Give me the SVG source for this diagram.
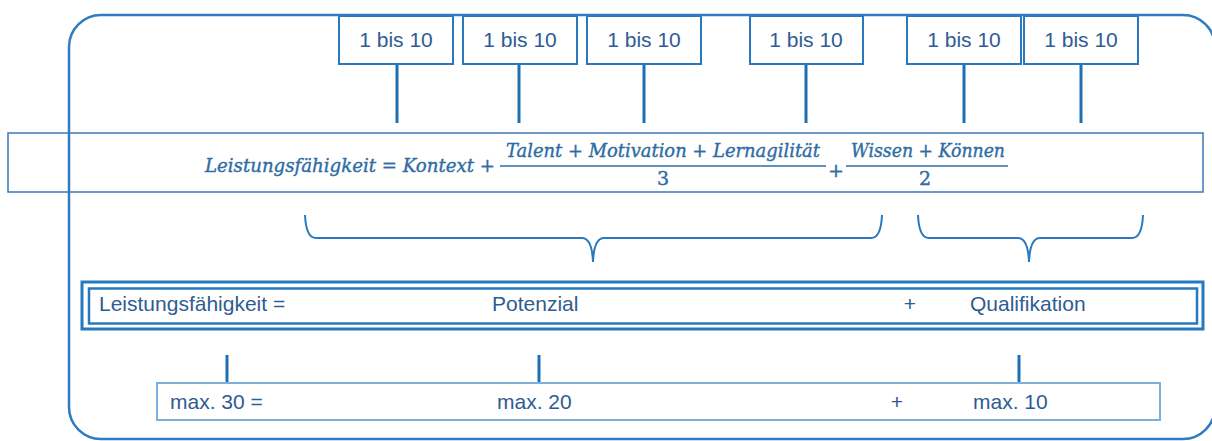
<svg xmlns="http://www.w3.org/2000/svg" width="1212" height="441" viewBox="0 0 1212 441">
<style>
.frame{fill:none;stroke:#2f7cc0;stroke-width:2.5}
.tbox{fill:#fff;stroke:#2a78bd;stroke-width:2}
.sans{font-family:"Liberation Sans",Arial,sans-serif;font-size:21px;fill:#2f5c92}
.math{font-family:"DejaVu Serif","Liberation Serif",serif;font-style:italic;font-size:19px;fill:#2e6ca5;stroke:#2e6ca5;stroke-width:0.4}
.mathn{font-family:"DejaVu Serif","Liberation Serif",serif;font-size:19px;fill:#2e6ca5;stroke:#2e6ca5;stroke-width:0.4}
.stem{stroke:#1f6fb0;stroke-width:3;fill:none}
.brace{fill:none;stroke:#2a78bd;stroke-width:2}
.fbar{stroke:#2e6ca5;stroke-width:1.5}
</style>
<rect id="frame" class="frame" x="69" y="15" width="1146" height="424" rx="32" ry="32"/>

<g id="connectors">
<line class="stem" x1="397" y1="64" x2="397" y2="123"/>
<line class="stem" x1="519" y1="64" x2="519" y2="123"/>
<line class="stem" x1="644" y1="64" x2="644" y2="123"/>
<line class="stem" x1="806" y1="64" x2="806" y2="123"/>
<line class="stem" x1="964" y1="64" x2="964" y2="123"/>
<line class="stem" x1="1081" y1="64" x2="1081" y2="123"/>
<line class="stem" x1="227" y1="355" x2="227" y2="383"/>
<line class="stem" x1="539" y1="355" x2="539" y2="383"/>
<line class="stem" x1="1019" y1="355" x2="1019" y2="383"/>
</g>

<g id="box-1"><rect class="tbox" x="339" y="16" width="114" height="48"/><text class="sans" x="396" y="47" text-anchor="middle">1 bis 10</text></g>
<g id="box-2"><rect class="tbox" x="463" y="16" width="114" height="48"/><text class="sans" x="520" y="47" text-anchor="middle">1 bis 10</text></g>
<g id="box-3"><rect class="tbox" x="587" y="16" width="114" height="48"/><text class="sans" x="644" y="47" text-anchor="middle">1 bis 10</text></g>
<g id="box-4"><rect class="tbox" x="750" y="16" width="113" height="48"/><text class="sans" x="806" y="47" text-anchor="middle">1 bis 10</text></g>
<g id="box-5"><rect class="tbox" x="907" y="16" width="114" height="48"/><text class="sans" x="964" y="47" text-anchor="middle">1 bis 10</text></g>
<g id="box-6"><rect class="tbox" x="1024" y="16" width="114" height="48"/><text class="sans" x="1081" y="47" text-anchor="middle">1 bis 10</text></g>

<g id="formula">
<rect x="8" y="133" width="1195" height="59" fill="none" stroke="#3b79b5" stroke-width="1.5"/>
<text class="math" x="205" y="172" textLength="290" lengthAdjust="spacingAndGlyphs">Leistungsfähigkeit = Kontext +</text>
<text class="math" x="506" y="157" textLength="314" lengthAdjust="spacingAndGlyphs">Talent + Motivation + Lernagilität</text>
<line class="fbar" x1="500" y1="166" x2="826" y2="166"/>
<text class="mathn" x="663" y="185" text-anchor="middle">3</text>
<text class="mathn" x="836" y="177" text-anchor="middle" font-size="16">+</text>
<text class="math" x="851" y="157" textLength="154" lengthAdjust="spacingAndGlyphs">Wissen + Können</text>
<line class="fbar" x1="846" y1="166" x2="1008" y2="166"/>
<text class="mathn" x="925" y="185" text-anchor="middle">2</text>
</g>

<g id="brace-potenzial"><path class="brace" d="M305,215 Q306,238 316,238 L582,238 Q592,238 593,262 Q594,238 604,238 L871,238 Q881,238 882,215"/></g>
<g id="brace-qualifikation"><path class="brace" d="M918,215 Q919,238 929,238 L1018,238 Q1028,238 1029,262 Q1030,238 1040,238 L1132,238 Q1142,238 1143,215"/></g>

<g id="summary">
<rect x="82" y="282" width="1121" height="47" fill="none" stroke="#2479bf" stroke-width="3"/>
<rect x="89" y="288.5" width="1108" height="35" fill="none" stroke="#2479bf" stroke-width="2.5"/>
<text class="sans" x="99" y="311">Leistungsfähigkeit =</text>
<text class="sans" x="492" y="311">Potenzial</text>
<text class="sans" x="910" y="311" text-anchor="middle">+</text>
<text class="sans" x="970" y="311">Qualifikation</text>
</g>

<g id="maxima">
<rect x="157" y="383" width="1003" height="37" fill="#fff" stroke="#7eaedb" stroke-width="2"/>
<text class="sans" x="170" y="409">max. 30 =</text>
<text class="sans" x="497" y="409">max. 20</text>
<text class="sans" x="897" y="409" text-anchor="middle">+</text>
<text class="sans" x="973" y="409">max. 10</text>
</g>
</svg>
